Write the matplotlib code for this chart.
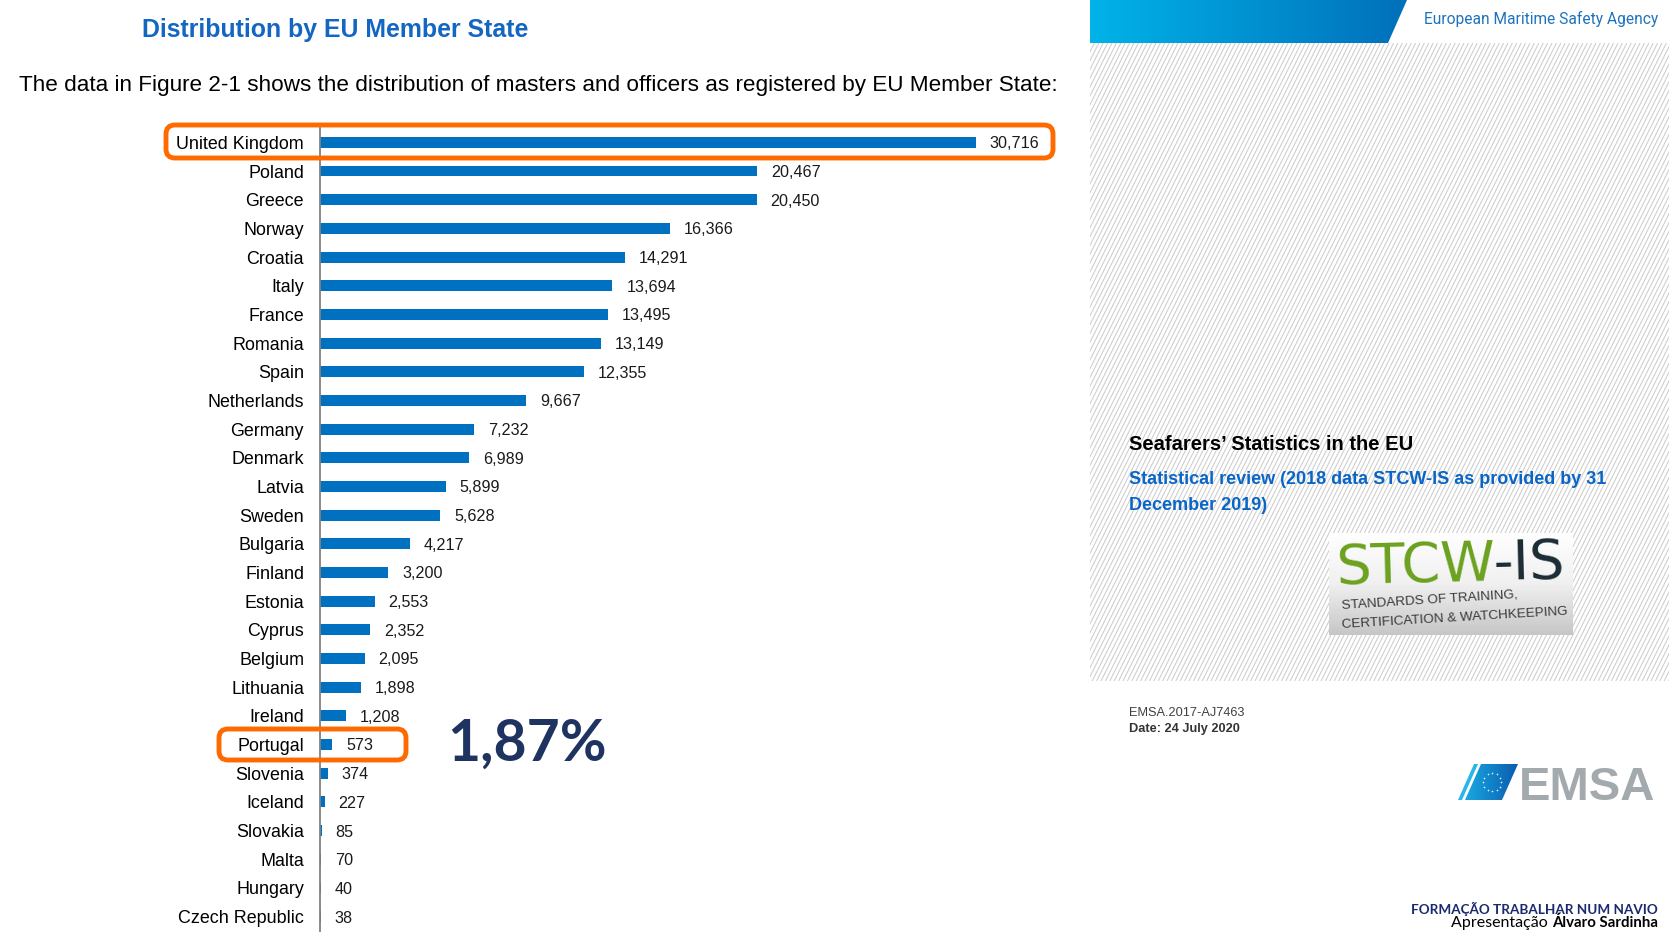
import matplotlib
matplotlib.use('Agg')
import matplotlib.pyplot as plt
import numpy as np
from matplotlib.patches import Polygon, Rectangle, FancyBboxPatch
from matplotlib.collections import LineCollection
from matplotlib.colors import LinearSegmentedColormap

# ---------------- data ----------------
countries = ["United Kingdom", "Poland", "Greece", "Norway", "Croatia", "Italy",
             "France", "Romania", "Spain", "Netherlands", "Germany", "Denmark",
             "Latvia", "Sweden", "Bulgaria", "Finland", "Estonia", "Cyprus",
             "Belgium", "Lithuania", "Ireland", "Portugal", "Slovenia", "Iceland",
             "Slovakia", "Malta", "Hungary", "Czech Republic"]
values = [30716, 20467, 20450, 16366, 14291, 13694, 13495, 13149, 12355, 9667,
          7232, 6989, 5899, 5628, 4217, 3200, 2553, 2352, 2095, 1898, 1208, 573,
          374, 227, 85, 70, 40, 38]
title = "Distribution by EU Member State"
subtitle = ("The data in Figure 2-1 shows the distribution of masters and officers "
            "as registered by EU Member State:")
highlight_pct = "1,87%"

W, H = 1669, 942
fig = plt.figure(figsize=(W / 100, H / 100), dpi=100)
fig.patch.set_facecolor('white')

bg = fig.add_axes([0, 0, 1, 1], zorder=0)
bg.axis('off')

ax = fig.add_axes([320 / W, 1 - 931 / H, 740 / W, 803 / H], zorder=1)
fg = fig.add_axes([0, 0, 1, 1], zorder=2, label='fg')
fg.axis('off')
fg.patch.set_alpha(0)

# ---------------- chart ----------------
y = np.arange(len(countries))
ax.barh(y, values, height=0.38, color='#0070C0')
ax.set_ylim(len(countries) - 0.5, -0.5)
ax.set_xlim(0, 30716 * 740 / 656)
ax.set_yticks(y, countries, fontsize=12.9, family='Liberation Sans')
ax.tick_params(axis='y', length=0, pad=11.5)
ax.set_xticks([])
for s in ['top', 'right', 'bottom']:
    ax.spines[s].set_visible(False)
ax.spines['left'].set_color('#808080')
ax.spines['left'].set_linewidth(1.3)
ax.patch.set_alpha(0)
for yi, v in zip(y, values):
    ax.annotate(f'{v:,}', (v, yi), xytext=(10, -1), textcoords='offset points',
                va='center', ha='left', fontsize=11.6, family='Liberation Sans',
                color='#1a1a1a')

# ---------------- left texts ----------------
fg.text(142, 30, title, fontsize=17.9, fontweight='bold', color='#1466C3',
        family='Liberation Sans', ha='left', va='center')
fg.text(19, 85, subtitle, fontsize=16.2, color='black', family='Liberation Sans',
        ha='left', va='center')

# highlight boxes
for (x0, y0, x1, y1) in [(166, 125, 1053, 158), (219, 729, 406, 760)]:
    fg.add_patch(FancyBboxPatch((x0, y0), x1 - x0, y1 - y0,
                                boxstyle='round,pad=0,rounding_size=9',
                                fc='none', ec='#FF6A00', lw=3.5))

fg.text(527, 744, highlight_pct, fontsize=41, fontweight='bold', color='#1F3361',
        family='Lato', ha='center', va='center')

# ---------------- right panel ----------------
# hatched background
bg.add_patch(Rectangle((1090, 43), W - 1090, 681 - 43, fc='white', ec='none', zorder=1))
clip = Rectangle((1090, 43), W - 1090, 681 - 43, fc='none', ec='none',
                 transform=bg.transData)
bg.add_patch(clip)
hh = 681 - 43
dx = hh * 0.5
segs = []
for xs in np.arange(1090 - dx, W + 5, 4.4):
    segs.append([(xs, 681), (xs + dx, 43)])
lc = LineCollection(segs, colors='#CDCDCD', linewidths=0.75, zorder=2)
bg.add_collection(lc)
lc.set_clip_path(clip)

# gradient band
cmap_b = LinearSegmentedColormap.from_list('b', ['#00B3E9', '#0070BA'])
grad = np.linspace(0, 1, 256).reshape(1, -1)
im = bg.imshow(grad, cmap=cmap_b, extent=[1090, 1407, 43, 0], aspect='auto', zorder=3)
band = Polygon([(1090, 0), (1407, 0), (1388, 43), (1090, 43)], closed=True,
               fc='none', ec='none', transform=bg.transData)
bg.add_patch(band)
im.set_clip_path(band)

fg.text(1658, 19, "European Maritime Safety Agency", fontsize=11.2, color='#1E73BE',
        family='Roboto', ha='right', va='center')

fg.text(1129, 444, "Seafarers\u2019 Statistics in the EU", fontsize=14.5,
        fontweight='bold', color='black', family='Liberation Sans', ha='left', va='center')
fg.text(1129, 480, "Statistical review (2018 data STCW-IS as provided by 31",
        fontsize=13, fontweight='bold', color='#0A66C6', family='Liberation Sans',
        ha='left', va='center')
fg.text(1129, 505, "December 2019)", fontsize=13, fontweight='bold', color='#0A66C6',
        family='Liberation Sans', ha='left', va='center')

# STCW-IS logo
cmap_g = LinearSegmentedColormap.from_list('g', ['#FFFFFF', '#F0F0F0', '#C6C6C6'])
gv = np.linspace(0, 1, 128).reshape(-1, 1)
bg.imshow(gv, cmap=cmap_g, extent=[1329, 1572, 635, 533], aspect='auto', zorder=4)
fg.text(1336, 584, "STCW", fontsize=40, color='#6BA11F', family='DejaVu Sans',
        ha='left', va='baseline', rotation=1.5, rotation_mode='anchor')
fg.text(1493, 580, "-IS", fontsize=40, color='#1B2B33', family='DejaVu Sans',
        ha='left', va='baseline', rotation=1.5, rotation_mode='anchor')
fg.text(1342, 609, "STANDARDS OF TRAINING,", fontsize=9.7, color='#3A3A3A',
        family='Liberation Sans', ha='left', va='baseline', rotation=3.6,
        rotation_mode='anchor')
fg.text(1342, 628, "CERTIFICATION & WATCHKEEPING", fontsize=9.7, color='#3A3A3A',
        family='Liberation Sans', ha='left', va='baseline', rotation=3.4,
        rotation_mode='anchor')

fg.text(1129, 713, "EMSA.2017-AJ7463", fontsize=9.2, color='#404040',
        family='Liberation Sans', ha='left', va='center')
fg.text(1129, 729, "Date: 24 July 2020", fontsize=9.2, fontweight='bold', color='#333333',
        family='Liberation Sans', ha='left', va='center')

# EMSA logo
stripe = Polygon([(1458, 800), (1474, 764), (1478, 764), (1462, 800)], closed=True,
                 fc='#2BB6EA', ec='none', zorder=5)
bg.add_patch(stripe)
cmap_e = LinearSegmentedColormap.from_list('e', ['#19A9E1', '#0B5BAE'])
im2 = bg.imshow(grad, cmap=cmap_e, extent=[1465, 1518, 800, 764], aspect='auto', zorder=5)
para = Polygon([(1465, 800), (1481, 764), (1518, 764), (1502, 800)], closed=True,
               fc='none', ec='none', transform=bg.transData)
bg.add_patch(para)
im2.set_clip_path(para)
ang = np.linspace(0, 2 * np.pi, 12, endpoint=False)
bg.scatter(1492 + 9 * np.cos(ang), 782 + 9 * np.sin(ang), s=1.5, color='#CFEFFF',
           zorder=6, linewidths=0)
fg.text(1519, 800, "EMSA", fontsize=34, fontweight='bold', color='#A3AAAE',
        family='Liberation Sans', ha='left', va='baseline')

# footer
fg.text(1658, 909, "FORMAÇÃO TRABALHAR NUM NAVIO", fontsize=9.7, fontweight='bold',
        color='#1B2A6E', family='Lato', ha='right', va='center')
bold_part = fg.text(1658, 923, "Álvaro Sardinha", fontsize=10.8, fontweight='bold',
                    color='black', family='Lato', ha='right', va='center')
fg.annotate("Apresentação ", xy=(0, 0.5), xycoords=bold_part, fontsize=11.5,
            color='black', family='Lato', ha='right', va='center')

for a in (bg, fg):
    a.set_xlim(0, W)
    a.set_ylim(H, 0)

fig.savefig('out.png', dpi=100)
